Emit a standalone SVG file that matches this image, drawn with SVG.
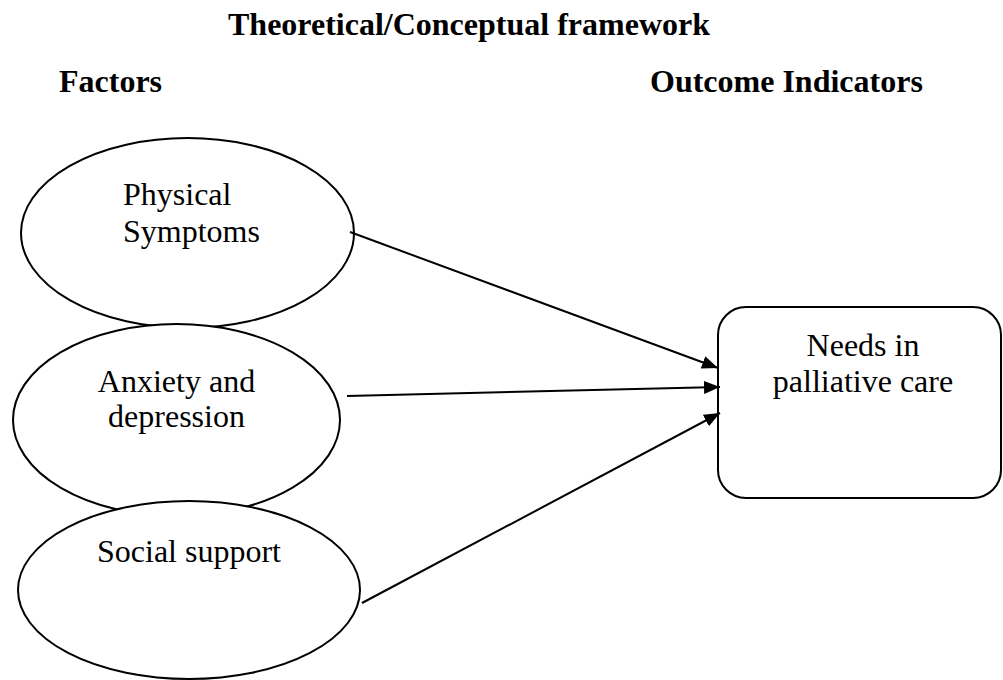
<svg xmlns="http://www.w3.org/2000/svg" width="1003" height="680" viewBox="0 0 1003 680">
  <style>
    .head { font-family: "Liberation Serif", "Times New Roman", serif; font-size: 32px; font-weight: bold; fill: #000; }
    .lbl { font-family: "Liberation Serif", "Times New Roman", serif; font-size: 32px; fill: #000; }
    .shape { fill: #fff; stroke: #000; stroke-width: 2; }
    .conn { stroke: #000; stroke-width: 2; fill: none; }
  </style>
  <defs>
    <marker id="arrow" markerUnits="userSpaceOnUse" markerWidth="17" markerHeight="14" refX="16" refY="6.5" orient="auto">
      <path d="M0,0 L16,6.5 L0,13 Z" fill="#000"/>
    </marker>
  </defs>
  <rect width="1003" height="680" fill="#fff"/>
  <g id="headings">
    <text class="head" x="228" y="35">Theoretical/Conceptual framework</text>
    <text class="head" x="59" y="92">Factors</text>
    <text class="head" x="650" y="92">Outcome Indicators</text>
  </g>
  <g id="node-physical">
    <ellipse class="shape" cx="187.5" cy="233" rx="166.5" ry="95"/>
    <text class="lbl" x="123" y="205">Physical</text>
    <text class="lbl" x="123" y="242">Symptoms</text>
  </g>
  <g id="node-anxiety">
    <ellipse class="shape" cx="176.5" cy="420" rx="163.5" ry="96"/>
    <text class="lbl" x="176.5" y="392" text-anchor="middle">Anxiety and</text>
    <text class="lbl" x="176.5" y="427" text-anchor="middle">depression</text>
  </g>
  <g id="node-social">
    <ellipse class="shape" cx="189" cy="590" rx="171" ry="89"/>
    <text class="lbl" x="189" y="562" text-anchor="middle">Social support</text>
  </g>
  <g id="node-needs">
    <rect class="shape" x="718" y="307" width="283" height="191" rx="28" ry="28"/>
    <text class="lbl" x="863" y="356" text-anchor="middle">Needs in</text>
    <text class="lbl" x="863" y="392" text-anchor="middle">palliative care</text>
  </g>
  <g id="connectors">
    <line class="conn" x1="350" y1="232" x2="718" y2="368" marker-end="url(#arrow)"/>
    <line class="conn" x1="347" y1="396" x2="720" y2="387" marker-end="url(#arrow)"/>
    <line class="conn" x1="362" y1="603" x2="720" y2="413" marker-end="url(#arrow)"/>
  </g>
</svg>
